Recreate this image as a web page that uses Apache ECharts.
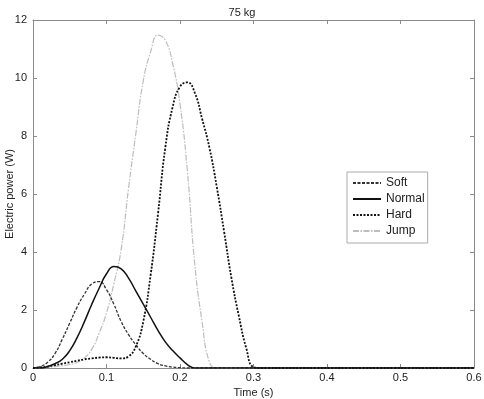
<!DOCTYPE html>
<html>
<head>
	<meta charset="utf-8">
	<title>75 kg</title>
	<script src="https://cdn.jsdelivr.net/npm/echarts@6/dist/echarts.min.js"></script>
	<style>
		html, body { margin: 0; padding: 0; background: #fff; }
		#chart { width: 484px; height: 399px; }
	</style>
</head>
<body>
	<div id="chart"></div>
	<script>
		// time samples (s)
		const times = [0, 0.01, 0.02, 0.03, 0.04, 0.05, 0.06, 0.07, 0.08, 0.09,
			0.10, 0.11, 0.12, 0.13, 0.14, 0.15, 0.16, 0.17, 0.18, 0.19,
			0.20, 0.21, 0.22, 0.23, 0.24, 0.25, 0.26, 0.27, 0.28, 0.29,
			0.30, 0.31, 0.6];
		// electric power (W)
		const soft   = [0, 0.05, 0.2, 0.5, 1.0, 1.55, 2.1, 2.55, 2.9, 2.98,
			2.7, 2.2, 1.6, 1.15, 0.8, 0.5, 0.3, 0.15, 0.07, 0.03,
			0.01, 0, 0, 0, 0, 0, 0, 0, 0, 0,
			0, 0, 0];
		const normal = [0, 0, 0.05, 0.15, 0.3, 0.6, 1.05, 1.6, 2.2, 2.75,
			3.25, 3.5, 3.42, 3.1, 2.65, 2.2, 1.75, 1.3, 0.9, 0.6,
			0.35, 0.12, 0, 0, 0, 0, 0, 0, 0, 0,
			0, 0, 0];
		const hard   = [0, 0.02, 0.05, 0.1, 0.15, 0.2, 0.25, 0.3, 0.33, 0.36,
			0.37, 0.35, 0.33, 0.4, 0.75, 1.6, 3.2, 5.3, 7.6, 9.0,
			9.7, 9.85, 9.5, 8.6, 7.6, 6.25, 4.7, 3.1, 1.8, 0.7,
			0.03, 0, 0];
		const jump   = [0, 0, 0.02, 0.05, 0.08, 0.12, 0.2, 0.35, 0.65, 1.2,
			1.9, 2.9, 4.1, 6.2, 8.1, 9.9, 10.9, 11.48, 11.3, 10.5,
			9.1, 6.8, 3.6, 1.6, 0.2, 0, 0, 0, 0, 0,
			0, 0, 0];
		const xTicks = [0, 0.1, 0.2, 0.3, 0.4, 0.5, 0.6];
		const yTicks = [0, 2, 4, 6, 8, 10, 12];

		const pairs = arr => times.map((t, i) => [t, arr[i]]);
		const font = 'Liberation Sans, Arial, sans-serif';
		const boxColor = '#8a8a8a';

		function frameAxis(extra) {
			return Object.assign({
				type: 'value',
				axisLine: { show: true, onZero: false, lineStyle: { color: boxColor, width: 1 } },
				axisTick: { show: true, inside: true, length: 4, lineStyle: { color: boxColor } },
				splitLine: { show: false },
				axisLabel: { show: false }
			}, extra);
		}

		const chart = echarts.init(document.getElementById('chart'));
		chart.setOption({
			animation: false,
			backgroundColor: '#fff',
			textStyle: { fontFamily: font, color: '#222' },
			title: {
				text: '75 kg', left: 'center', top: 2,
				textStyle: { fontFamily: font, fontSize: 11, fontWeight: 'normal', color: '#222' }
			},
			grid: { left: 33, right: 10, top: 20, bottom: 31, containLabel: false, outerBoundsMode: 'none' },
			legend: {
				orient: 'vertical', left: 347, top: 172,
				backgroundColor: '#fff', borderColor: '#aaa', borderWidth: 1,
				padding: [5, 3, 6, 5], itemGap: 4,
				itemWidth: 28, itemHeight: 10,
				itemStyle: { color: 'transparent', borderWidth: 0, opacity: 0 },
				textStyle: { fontFamily: font, fontSize: 12, color: '#222' },
				data: ['Soft', 'Normal', 'Hard', 'Jump']
			},
			xAxis: [
				frameAxis({
					min: 0, max: 0.6, interval: 0.1, position: 'bottom',
					name: 'Time (s)', nameLocation: 'middle', nameGap: 16,
					nameTextStyle: { fontFamily: font, fontSize: 11, color: '#222' },
					axisLabel: {
						show: true, fontFamily: font, fontSize: 11, color: '#222', margin: 4,
						formatter: v => xTicks.includes(+v.toFixed(1)) ? String(+v.toFixed(1)) : ''
					}
				}),
				frameAxis({ min: 0, max: 0.6, interval: 0.1, position: 'top' })
			],
			yAxis: [
				frameAxis({
					min: 0, max: 12, interval: 2, position: 'left',
					name: 'Electric power (W)', nameLocation: 'middle', nameGap: 18,
					nameMoveOverlap: false,
					nameTextStyle: { fontFamily: font, fontSize: 11, color: '#222' },
					axisLabel: {
						show: true, fontFamily: font, fontSize: 11, color: '#222', margin: 6,
						formatter: v => yTicks.includes(v) ? String(v) : ''
					}
				}),
				frameAxis({ min: 0, max: 12, interval: 2, position: 'right' })
			],
			series: [
				{
					name: 'Soft', type: 'line', smooth: 0.5, symbol: 'none', data: pairs(soft),
					lineStyle: { color: '#333', width: 1.3, type: [3, 1.5] }, itemStyle: { color: '#333' }, z: 3
				},
				{
					name: 'Normal', type: 'line', smooth: 0.5, symbol: 'none', data: pairs(normal),
					lineStyle: { color: '#111', width: 1.5, type: 'solid' }, itemStyle: { color: '#111' }, z: 4
				},
				{
					name: 'Hard', type: 'line', smooth: 0.5, symbol: 'none', data: pairs(hard),
					lineStyle: { color: '#111', width: 1.8, type: [2, 1.5] }, itemStyle: { color: '#111' }, z: 3
				},
				{
					name: 'Jump', type: 'line', smooth: 0.5, symbol: 'none', data: pairs(jump),
					lineStyle: { color: '#bdbdbd', width: 1.2, type: [6, 1.5, 1.5, 1.5] }, itemStyle: { color: '#bdbdbd' }, z: 2
				}
			]
		});
	</script>
</body>
</html>
